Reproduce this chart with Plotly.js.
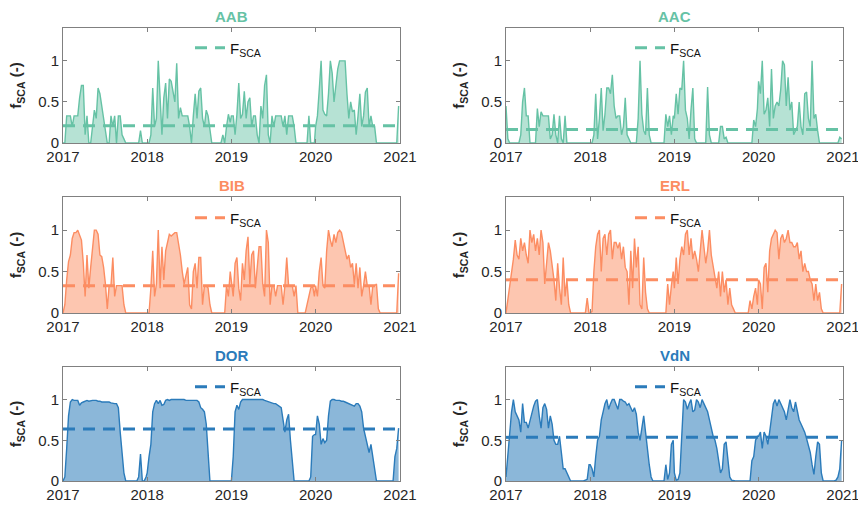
<!DOCTYPE html>
<html>
<head>
<meta charset="utf-8">
<script src="https://cdn.plot.ly/plotly-3.0.1.min.js"></script>
<style>html,body{margin:0;padding:0;background:#fff}#chart{width:858px;height:505px}</style>
</head>
<body>
<div id="chart"></div>
<script>
// ---- data ----
const stations = ['AAB', 'AAC', 'BIB', 'ERL', 'DOR', 'VdN'];
const years = [2017, 2018, 2019, 2020];
const stepDays = 8; // 8-day composites, 46 per year
const xTickLabels = ['2017', '2018', '2019', '2020', '2021'];
const yTickVals = [0, 0.5, 1];

const aab = [
  0,0,0.33,0.33,0.33,0.2,0.33,0.33,0.33,0.55, 0.7,0.7,0.1,0.33,0,0,0.25,0.4,0.3,0.67, 0.6,0.45,0.3,0.1,0,0,0.33,0.2,0.33,0, 0.33,0.33,0.1,0.05,0,0,0,0,0,0, 0,0,0.15,0,0,0,
  0,0,0.1,0.67,0.2,0.3,1.0,0.5,0.1,0.55, 0.73,0.3,0.78,0.75,0.6,0.5,0.97,0.3,0.43,0.33, 0.33,0.33,0.33,0.2,0,0.33,0.6,0.3,0.63,0.67, 0.3,0.2,0.4,0.33,0.15,0,0,0,0,0, 0,0.1,0,0.2,0.35,0.25,
  0.33,0.33,0.1,0.35,0.73,0.3,0.35,0.63,0.3,0.5, 0.55,0.2,0.33,0.33,0.1,0,0.45,0.3,0.7,0.83, 0.1,0,0.33,0.2,0.33,0.33,0.33,0.33,0.2,0.33, 0.1,0.33,0.33,0.33,0.2,0,0,0,0,0, 0,0,0.33,0,0,0,
  0.2,0.33,0.65,1.0,0.4,0.35,0.33,0.6,1.0,0.85, 0.5,0.7,0.9,1.0,1.0,1.0,1.0,0.6,0.3,0.5, 0.38,0.4,0.1,0.33,0.6,0.2,0.33,0.62,0.67,0.2, 0.33,0.2,0.2,0,0,0,0,0,0,0, 0,0,0,0,0,0.45
];
const aac = [
  0.45,0.05,0,0,0,0,0,0,0.1,0.5, 0.67,0.33,0.33,0,0,0,0,0.42,0.2,0.38, 0.33,0.33,0.33,0.33,0.05,0.1,0.35,0.1,0,0.33, 0.05,0,0.33,0,0,0,0,0,0,0, 0,0,0,0,0,0,
  0,0,0.1,0.6,0.05,0.3,0.67,0.15,0.35,0.67, 0.67,0.6,0.83,0.45,0.3,0.33,0.33,0.1,0.2,0.55, 0.1,0.05,0,0,0,0,0.3,1.0,0.35,0.15, 0.1,0.67,0.1,0,0,0,0,0,0,0, 0,0.35,0.2,0.33,0.1,0.33,
  0.3,0.6,0.35,0.67,0.65,1.0,0.4,0.3,0.05,0.4, 0.67,0.05,0,0,0,0,0,0,0.68,0.1, 0,0,0,0,0,0.2,0.2,0.05,0.07,0, 0,0,0,0,0,0,0,0,0,0, 0,0,0,0.28,0.2,0.42,
  0.75,0.6,1.0,0.35,0.4,0.55,0.2,0.9,0.3,0.45, 0.5,0.45,0.65,1.0,0.95,0.45,0.8,0.4,0.5,0.1, 0.15,0.2,0.5,0.2,0.1,0.6,0.62,0.3,0.2,1.0, 0.3,0.35,0.15,0,0,0,0,0,0,0, 0,0,0,0,0.07,0.05
];
const bib = [
  0,0.1,0.4,0.62,0.7,0.9,0.97,0.97,1.0,0.95, 0.88,0.6,0.2,0.7,0.3,0.55,0.8,1.0,1.0,0.95, 0.7,0.68,0.55,0.35,0.05,0.33,0.33,0.67,0.2,0.33, 0.33,0.33,0.33,0.1,0,0,0,0,0,0, 0,0,0,0,0,0,
  0,0,0.3,0.75,0.2,0.35,1.0,0.3,0.8,0.4, 0.75,0.85,0.95,0.93,0.95,0.97,0.97,0.85,0.7,0.5, 0.35,0.45,0.55,0.1,0.05,0.5,0.6,0.3,0.67,0.67, 0.1,0.33,0.33,0.3,0.1,0,0,0,0,0, 0,0,0,0.33,0.2,0.5,
  0.4,0.2,0.6,0.67,0.3,0.15,0.6,0.4,0.75,0.92, 0.35,0.7,0.75,0.3,0.55,0.8,0.8,0.35,0.2,1.0, 0.85,0.1,0.33,0.33,0.2,0.33,0.33,0.33,0.1,0.33, 0.67,0.33,0.33,0.33,0.2,0.33,0,0,0,0, 0,0.1,0.2,0.3,0.33,0.2,
  0.33,0.2,0.5,0.67,0.33,0.3,0.75,1.0,0.88,0.8, 0.95,0.85,0.97,1.0,0.97,0.85,0.75,0.65,0.7,0.55, 0.6,0.35,0.6,0.3,0.55,0.2,0.33,0.5,0.33,0.33, 0.1,0.33,0.33,0.35,0.05,0,0,0,0,0, 0,0,0,0,0,0.48
];
const erl = [
  0,0.15,0.3,0.5,0.65,0.88,0.7,0.65,0.9,0.75, 0.85,0.7,0.6,1.0,0.85,0.95,0.75,0.9,0.7,1.0, 0.85,0.35,0.6,0.85,0.75,0.6,0.4,0.15,0.6,0.3, 0.1,0.67,0.2,0.4,0.1,0,0,0,0,0, 0,0,0,0,0.18,0,
  0,0.02,0.5,0.8,0.95,1.0,0.5,0.9,0.95,0.7, 0.95,1.0,0.65,0.85,0.85,0.78,0.85,0.65,0.8,0.55, 0.5,0.1,0.75,0.3,0.9,0.55,0.8,0.1,0.05,0.67, 0.25,0.05,0,0,0,0,0,0,0,0, 0,0,0.35,0.1,0.33,0.5,
  0.3,0.67,0.35,0.65,0.8,0.7,0.95,1.0,0.7,0.9, 0.65,0.75,0.65,0.5,0.75,1.0,0.8,0.6,0.75,1.0, 0.7,0.55,0.4,0.3,0.5,0.2,0.5,0.25,0.4,0.1, 0.3,0.1,0.05,0,0,0,0,0,0,0, 0,0.15,0.05,0.2,0.3,0.1,
  0.4,0.35,0.05,0.55,0.6,0.25,0.75,0.9,0.95,1.0, 0.97,0.65,0.9,0.95,0.85,0.9,1.0,0.85,0.85,0.8, 0.8,0.85,0.65,0.75,0.5,0.6,0.5,0.5,0.4,0.35, 0.15,0.35,0.15,0.25,0.05,0,0,0,0,0, 0,0,0,0,0,0.35
];
const dor = [
  0,0.05,0.4,0.8,0.97,1.0,0.99,0.99,0.99,0.93, 0.96,0.97,0.98,0.99,0.98,0.99,0.99,0.99,0.99,0.98, 0.98,0.97,0.97,0.97,0.97,0.97,0.96,0.95,0.95,0.95, 0.9,0.6,0.35,0.1,0,0,0,0,0,0, 0,0.05,0.33,0,0,0.05,
  0.1,0.3,0.45,0.85,0.95,0.99,0.95,0.99,0.93,0.94, 0.99,1.0,0.99,1.0,1.0,1.0,1.0,1.0,1.0,1.0, 1.0,0.99,0.99,0.99,0.99,0.99,0.99,0.99,0.97,0.9, 0.88,0.85,0.7,0.3,0,0,0,0,0,0, 0,0,0,0,0,0,
  0,0.3,0.85,0.93,0.88,0.97,1.0,1.0,1.0,1.0, 1.0,1.0,1.0,1.0,1.0,1.0,1.0,1.0,0.99,0.98, 0.97,0.97,0.96,0.95,0.95,0.93,0.92,0.9,0.75,0.6, 0.75,0.82,0.5,0.2,0,0,0,0,0,0, 0,0,0,0.05,0.55,0.57,
  0.57,0.8,0.7,0.45,0.52,0.47,0.5,0.8,0.98,1.0, 1.0,0.99,0.99,0.99,0.98,0.98,0.97,0.96,0.95,0.94, 0.92,0.92,0.95,0.95,0.92,0.85,0.65,0.55,0.45,0.35, 0.45,0.3,0.15,0,0,0,0,0,0,0, 0,0,0,0.3,0.4,0.65
];
const vdn = [
  0.05,0.35,0.65,0.85,1.0,0.85,0.8,0.75,0.6,0.95, 0.72,0.72,0.65,0.75,0.85,0.92,0.98,1.0,0.8,0.65, 0.9,0.95,0.88,0.65,0.8,0.7,0.5,0.45,0.45,0.55, 0.35,0.15,0.15,0.1,0.04,0,0,0,0,0, 0,0,0,0.01,0.02,0.2,
  0.2,0.15,0.05,0.3,0.5,0.55,0.75,0.85,0.95,1.0, 0.88,0.95,1.0,1.0,0.95,0.88,1.0,1.0,0.98,0.97, 0.93,0.95,0.9,0.85,0.9,0.82,0.6,0.5,0.65,0.8, 0.6,0.35,0.2,0.05,0,0,0,0,0,0, 0,0.2,0.02,0.1,0.45,0.5,
  0.1,0.01,0.02,0.1,0.55,1.0,0.97,0.88,0.95,1.0, 0.85,0.87,1.0,0.97,0.9,1.0,0.95,0.9,0.85,0.75, 0.65,0.55,0.5,0.4,0.25,0.1,0.15,0.45,0.48,0.25, 0.05,0.01,0,0,0,0,0,0,0,0, 0,0,0.25,0.3,0.5,0.55,
  0.55,0.6,0.4,0.6,0.55,0.45,0.6,0.8,0.95,1.0, 0.92,1.0,0.95,0.9,0.85,0.75,0.9,1.0,0.9,0.85, 0.97,0.85,0.75,0.7,0.65,0.6,0.52,0.45,0.35,0.2, 0.08,0.3,0.48,0.45,0.1,0,0,0,0,0, 0,0,0.01,0.05,0.15,0.5
];
// long-term mean snow cover fraction F_SCA per station
const fscaMean = [0.21, 0.164, 0.33, 0.40, 0.64, 0.536];

// ---- build ----
const series = [aab, aac, bib, erl, dor, vdn];
const dates = [];
years.forEach(y => {
  for (let k = 0; k < 46; k++) {
    const d = new Date(Date.UTC(y, 0, 1 + stepDays * k));
    dates.push(d.toISOString().slice(0, 10));
  }
});

const lineColors = ['#66c2a5', '#66c2a5', '#fc8d62', '#fc8d62', '#2b7bba', '#2b7bba'];
const fillColors = ['rgba(102,194,165,0.48)', 'rgba(102,194,165,0.48)', 'rgba(252,141,98,0.5)',
                    'rgba(252,141,98,0.5)', 'rgba(43,123,186,0.55)', 'rgba(43,123,186,0.55)'];

const W = 858, H = 505;
const colX = [[63, 400], [506, 843]];
const rowY = [[28, 143], [197, 313], [367, 481]];
const legendPx = [[190, 48], [630, 48], [190, 218], [630, 218], [190, 387], [630, 387]];
const FONT = 'Liberation Sans, Arial, Helvetica, sans-serif';
const axisColor = '#808080';

const traces = [];
const layout = {
  width: W, height: H,
  margin: {l: 0, r: 0, t: 0, b: 0},
  paper_bgcolor: '#fff', plot_bgcolor: '#fff',
  font: {family: FONT, color: '#262626', size: 15},
  annotations: [],
  showlegend: true
};

stations.forEach((name, i) => {
  const col = i % 2, row = Math.floor(i / 2);
  const sfx = i === 0 ? '' : String(i + 1);
  const xa = 'x' + sfx, ya = 'y' + sfx;
  const legName = 'legend' + sfx;

  traces.push({
    x: dates, y: series[i], xaxis: xa, yaxis: ya,
    type: 'scatter', mode: 'lines', fill: 'tozeroy',
    fillcolor: fillColors[i], line: {color: lineColors[i], width: 1.4},
    showlegend: false, hoverinfo: 'x+y'
  });
  traces.push({
    x: ['2017-01-01', '2021-01-01'], y: [fscaMean[i], fscaMean[i]],
    xaxis: xa, yaxis: ya, type: 'scatter', mode: 'lines',
    line: {color: lineColors[i], width: 3, dash: '12px,8px'},
    name: 'F<sub>SCA</sub>', legend: legName, showlegend: true
  });

  const xd = [colX[col][0] / W, colX[col][1] / W];
  const yd = [1 - rowY[row][1] / H, 1 - rowY[row][0] / H];

  layout['xaxis' + sfx] = {
    domain: xd, anchor: ya, type: 'date',
    range: ['2017-01-01', '2021-01-01'],
    tickvals: xTickLabels.map(t => t + '-01-01'), ticktext: xTickLabels,
    ticks: 'inside', ticklen: 4, tickcolor: axisColor, tickwidth: 1,
    showline: true, linecolor: axisColor, linewidth: 1, mirror: 'ticks',
    showgrid: false, zeroline: false, ticklabeloverflow: 'allow',
    tickfont: {size: 15, color: '#262626'}
  };
  layout['yaxis' + sfx] = {
    domain: yd, anchor: xa, range: [0, 1.4],
    tickvals: yTickVals, ticktext: ['0', '0.5', '1'],
    ticks: 'inside', ticklen: 4, tickcolor: axisColor, tickwidth: 1,
    showline: true, linecolor: axisColor, linewidth: 1, mirror: 'ticks',
    showgrid: false, zeroline: false,
    tickfont: {size: 15, color: '#262626'},
    title: {text: '<b>f<sub>SCA</sub> (-)</b>', font: {size: 15, color: '#262626'}, standoff: 12}
  };
  layout[legName] = {
    x: legendPx[i][0] / W, y: 1 - legendPx[i][1] / H,
    xanchor: 'left', yanchor: 'middle',
    bgcolor: 'rgba(0,0,0,0)', borderwidth: 0,
    font: {size: 15, color: '#111'}
  };
  layout.annotations.push({
    text: '<b>' + name + '</b>', showarrow: false,
    xref: 'paper', yref: 'paper',
    x: (xd[0] + xd[1]) / 2, y: yd[1], xanchor: 'center', yanchor: 'bottom', yshift: 1,
    font: {size: 15, color: lineColors[i], family: FONT}
  });
});

Plotly.newPlot('chart', traces, layout, {displayModeBar: false, staticPlot: true});
</script>
</body>
</html>
